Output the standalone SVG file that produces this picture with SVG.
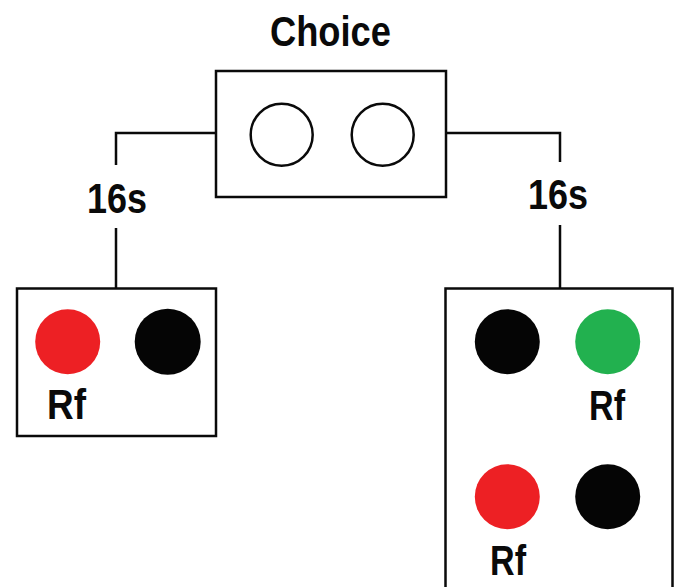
<svg xmlns="http://www.w3.org/2000/svg" width="679" height="587" viewBox="0 0 679 587">
<style>
.box{fill:#fff;stroke:#0a0a0a;stroke-width:2.5}
.ring{fill:#fff;stroke:#0a0a0a;stroke-width:2.5}
.conn{fill:none;stroke:#0a0a0a;stroke-width:2.5}
.lbl{font-family:"Liberation Sans",Arial,sans-serif;font-size:43px;font-weight:bold;fill:#0a0a0a}
.red{fill:#ED2024}.blk{fill:#050505}.grn{fill:#22B14F}
</style>
<rect width="679" height="587" fill="#fff"/>
<g id="connectors">
<polyline class="conn" points="216,133 116,133 116,165"/>
<line class="conn" x1="116" y1="228" x2="116" y2="288"/>
<polyline class="conn" points="446,133 560,133 560,162"/>
<line class="conn" x1="560" y1="225" x2="560" y2="288"/>
<text class="lbl" x="87" y="213" textLength="60" lengthAdjust="spacingAndGlyphs">16s</text>
<text class="lbl" x="528" y="209" textLength="60" lengthAdjust="spacingAndGlyphs">16s</text>
</g>
<g id="choice">
<text class="lbl" x="270" y="46" textLength="121" lengthAdjust="spacingAndGlyphs">Choice</text>
<rect class="box" x="216" y="71" width="230" height="126"/>
<circle class="ring" cx="281.7" cy="134.7" r="31"/>
<circle class="ring" cx="382.7" cy="134.7" r="31"/>
</g>
<g id="left">
<rect class="box" x="17" y="288.5" width="199" height="147.5"/>
<circle class="red" cx="67.7" cy="341.7" r="32.5"/>
<circle class="blk" cx="167.7" cy="341.7" r="33"/>
<text class="lbl" x="47" y="419" textLength="39" lengthAdjust="spacingAndGlyphs">Rf</text>
</g>
<g id="right">
<rect class="box" x="445.5" y="288.5" width="227" height="310"/>
<circle class="blk" cx="507.3" cy="341.7" r="32.5"/>
<circle class="grn" cx="607.7" cy="341.7" r="32.5"/>
<text class="lbl" x="589" y="420" textLength="36" lengthAdjust="spacingAndGlyphs">Rf</text>
<circle class="red" cx="507.3" cy="496.7" r="32.5"/>
<circle class="blk" cx="607.7" cy="496.7" r="32.5"/>
<text class="lbl" x="490" y="575" textLength="36" lengthAdjust="spacingAndGlyphs">Rf</text>
</g>
</svg>
